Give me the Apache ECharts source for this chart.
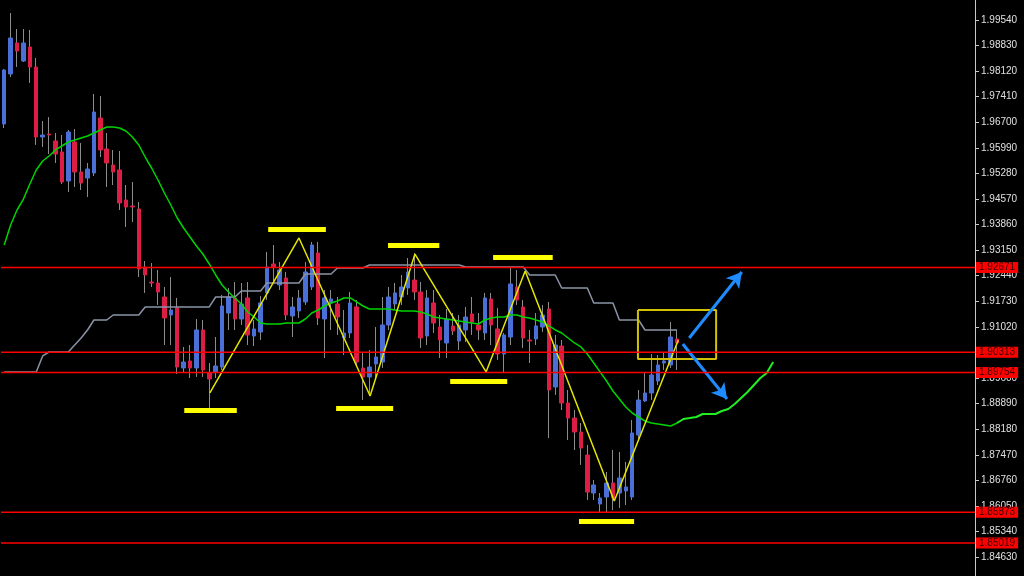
<!DOCTYPE html>
<html><head><meta charset="utf-8">
<script src="https://cdn.jsdelivr.net/npm/echarts@6/dist/echarts.min.js"></script>
<style>html,body{margin:0;padding:0;background:#000;}#c{width:1024px;height:576px;}</style>
</head><body><div id="c"></div>
<script>
const slotCount = 152;
const opens = [
1.96652,1.98041,1.98901,1.98401,1.98790,1.98235,1.96292,1.96375,1.96181,1.95875,
1.95070,1.96153,1.95320,1.95153,1.95292,1.96819,1.95959,1.95514,1.95376,1.94543,
1.94376,1.94293,1.92682,1.92266,1.92238,1.91850,1.91350,1.91545,1.89879,1.90073,
1.89879,1.90934,1.89740,1.89768,1.89906,1.91406,1.91823,1.91239,1.91823,1.90767,
1.90878,1.91962,1.92766,1.92183,1.92377,1.91323,1.91462,1.91712,1.92128,1.93071,
1.91239,1.91684,1.91656,1.90711,1.90851,1.91573,1.89879,1.89629,1.89990,1.90045,
1.91072,1.91656,1.91850,1.92100,1.92322,1.91989,1.90767,1.91684,1.91017,1.90573,
1.91045,1.90628,1.90934,1.91378,1.91072,1.90851,1.91795,1.90962,1.90267,1.90739,
1.92128,1.91573,1.90656,1.90684,1.91017,1.91517,1.89351,1.90489,1.88907,1.88490,
1.88102,1.87463,1.86408,1.86103,1.86297,1.86686,1.86408,1.86464,1.86297,1.88019,
1.88962,1.89185,1.89518,1.90017,1.89962,1.90684];
const closes = [
1.98152,1.99040,1.98679,1.98901,1.98235,1.96292,1.96347,1.96347,1.95820,1.95042,
1.96430,1.95320,1.95015,1.95403,1.96984,1.95931,1.95570,1.95320,1.94459,1.94348,
1.94348,1.92627,1.92461,1.92238,1.91989,1.91267,1.91489,1.89906,1.90045,1.89879,
1.90934,1.89823,1.89573,1.89934,1.91600,1.91850,1.91239,1.91656,1.90795,1.90962,
1.91684,1.92682,1.92682,1.92600,1.91350,1.91573,1.91823,1.92544,1.93293,1.91267,
1.91823,1.91795,1.91295,1.90851,1.91684,1.90045,1.89629,1.89906,1.90184,1.91072,
1.91850,1.91962,1.92128,1.92544,1.91989,1.90711,1.91823,1.91128,1.90656,1.91239,
1.90906,1.91072,1.91295,1.91156,1.90934,1.91823,1.91072,1.90267,1.90795,1.92211,
1.91767,1.90711,1.90628,1.91045,1.91350,1.89268,1.90517,1.88907,1.88490,1.88102,
1.87658,1.86436,1.86630,1.86269,1.86686,1.86269,1.86825,1.86575,1.88074,1.88990,
1.89185,1.89684,1.89962,1.90073,1.90739,1.90573];
const lows = [
1.96541,1.97958,1.98235,1.98374,1.97792,1.96070,1.96014,1.95820,1.95570,1.94987,
1.94765,1.94904,1.94820,1.94626,1.95209,1.95736,1.94904,1.94959,1.94265,1.93793,
1.93932,1.92405,1.91962,1.92128,1.91628,1.90517,1.90517,1.89712,1.89740,1.89601,
1.89629,1.89629,1.88657,1.89601,1.89823,1.90934,1.90934,1.91072,1.90517,1.90489,
1.90656,1.91767,1.92238,1.92045,1.91211,1.90739,1.91267,1.91628,1.92045,1.91072,
1.90156,1.90934,1.90795,1.90240,1.90711,1.89962,1.88990,1.89185,1.89545,1.89879,
1.90934,1.91489,1.91628,1.91906,1.91767,1.90434,1.90517,1.90851,1.90156,1.90156,
1.90795,1.90378,1.90600,1.90795,1.90656,1.90656,1.90517,1.90101,1.89740,1.90517,
1.91628,1.90434,1.90017,1.90517,1.90878,1.87935,1.89129,1.88713,1.87880,1.87602,
1.87186,1.86214,1.86214,1.85881,1.85881,1.85936,1.85992,1.86075,1.86214,1.87880,
1.88935,1.88990,1.89407,1.89823,1.89879,1.89823];
const highs = [
1.98179,1.99734,1.99290,1.99290,1.99262,1.98485,1.96736,1.96845,1.96403,1.96347,
1.96486,1.96514,1.96125,1.95570,1.97485,1.97430,1.96403,1.95931,1.95903,1.94959,
1.95042,1.94487,1.92849,1.92794,1.92600,1.92128,1.92405,1.91823,1.90462,1.90517,
1.91239,1.91211,1.90017,1.90739,1.91906,1.92100,1.92266,1.92238,1.92266,1.91211,
1.91878,1.93099,1.93293,1.92822,1.92544,1.91850,1.92045,1.92822,1.93377,1.93377,
1.92045,1.92045,1.91850,1.91489,1.91989,1.91767,1.90295,1.90378,1.91017,1.91850,
1.92128,1.92238,1.92461,1.92932,1.93071,1.92266,1.92045,1.92045,1.91350,1.91517,
1.91406,1.91350,1.91573,1.91850,1.91406,1.91962,1.91962,1.91545,1.90851,1.92655,
1.92600,1.91767,1.90934,1.91406,1.91628,1.91712,1.90795,1.90656,1.89268,1.88713,
1.88352,1.87741,1.86769,1.86408,1.86991,1.87602,1.87547,1.87269,1.88435,1.89268,
1.89740,1.90267,1.90240,1.90295,1.91156,1.90934];
const maMain = [
1.93293,1.93849,1.94265,1.94570,1.94987,1.95376,1.95625,1.95764,1.95931,1.96042,
1.96153,1.96208,1.96264,1.96319,1.96403,1.96486,1.96569,1.96569,1.96541,1.96458,
1.96292,1.96070,1.95736,1.95431,1.95098,1.94737,1.94404,1.94043,1.93765,1.93515,
1.93265,1.93043,1.92766,1.92461,1.92183,1.91989,1.91823,1.91656,1.91433,1.91295,
1.91128,1.91100,1.91100,1.91100,1.91128,1.91128,1.91128,1.91239,1.91406,1.91489,
1.91600,1.91684,1.91739,1.91823,1.91823,1.91712,1.91600,1.91517,1.91517,1.91517,
1.91517,1.91489,1.91462,1.91462,1.91462,1.91433,1.91378,1.91295,1.91267,1.91239,
1.91211,1.91183,1.91156,1.91128,1.91100,1.91211,1.91267,1.91295,1.91295,1.91350,
1.91350,1.91295,1.91267,1.91211,1.91156,1.91045,1.90934,1.90851,1.90711,1.90573,
1.90462,1.90267,1.90017,1.89768,1.89518,1.89240,1.89018,1.88796,1.88629,1.88518,
1.88407,1.88352,1.88324,1.88296,1.88268,1.88352];
const maProjStart = 105;
const maProj = [1.88352,1.88463,1.88490,1.88518,1.88602,1.88602,1.88602,1.88685,1.88740,1.88879,1.89046,1.89212,1.89407,1.89601,1.89740,1.90045];
const grayLine = [
1.89768,1.89768,1.89768,1.89768,1.89768,1.89768,1.90212,1.90323,1.90323,1.90323,
1.90323,1.90517,1.90711,1.90934,1.91211,1.91211,1.91211,1.91350,1.91350,1.91350,
1.91350,1.91350,1.91573,1.91573,1.91573,1.91573,1.91573,1.91573,1.91573,1.91573,
1.91573,1.91573,1.91573,1.91850,1.91850,1.91850,1.91850,1.92016,1.92016,1.92016,
1.92016,1.92238,1.92238,1.92238,1.92238,1.92238,1.92238,1.92488,1.92488,1.92488,
1.92488,1.92488,1.92655,1.92655,1.92655,1.92655,1.92655,1.92738,1.92738,1.92738,
1.92738,1.92738,1.92738,1.92738,1.92738,1.92738,1.92738,1.92738,1.92738,1.92738,
1.92738,1.92738,1.92682,1.92682,1.92682,1.92682,1.92682,1.92682,1.92682,1.92682,
1.92682,1.92682,1.92461,1.92461,1.92461,1.92461,1.92461,1.92100,1.92100,1.92100,
1.92100,1.92100,1.91684,1.91684,1.91684,1.91684,1.91211,1.91211,1.91211,1.91211,
1.90934,1.90934,1.90934,1.90934,1.90934,1.90934];
const zigzagX = [32.1,46.0,57.1,64.1,75.2,81.3,95.2,105.2];
const zigzagY = [1.89185,1.93488,1.89101,1.93043,1.89768,1.92572,1.86186,1.90656];
const barStartX = [28.1,41.2,51.8,59.9,69.6,76.3,89.7];
const barEndX   = [36.3,50.2,60.7,67.9,78.5,85.6,98.3];
const barY      = [1.88713,1.93738,1.88768,1.93293,1.89504,1.92960,1.85631];
const boxX = [98.9,111.1];
const boxY = [1.91489,1.90128];
const arrowStartX = [106.9,105.9];
const arrowStartY = [1.90711,1.90545];
const arrowEndX = [115.1,112.8];
const arrowEndY = [1.92544,1.89018];
const levelPrices = [1.92671,1.90313,1.89754,1.85873,1.85019];
const tickValues = [1.99540,1.98830,1.98120,1.97410,1.96700,1.95990,1.95280,1.94570,1.93860,1.93150,1.92440,1.91730,1.91020,1.90310,1.89600,1.88890,1.88180,1.87470,1.86760,1.86050,1.85340,1.84630];
const yMin = 1.84104, yMax = 2.00095;

const slots = [];
for (let i = 0; i < slotCount; i++) slots.push(String(i));
const wickData = opens.map((o, i) => [o, closes[i], lows[i], highs[i]]);
const bodyData = opens.map((o, i) => [o, closes[i], Math.min(o, closes[i]), Math.max(o, closes[i])]);
const font = 'Liberation Sans, Arial, sans-serif';

const levelSeries = levelPrices.map(v => ({
  type: 'line', xAxisIndex: 1, silent: true, showSymbol: false, z: 5,
  data: [[-0.5, v], [slotCount - 0.5, v]],
  lineStyle: {color: '#ff0000', width: 1.5},
  endLabel: {show: true, formatter: v.toFixed(5), distance: 1, color: '#3a0000', backgroundColor: '#ff0000',
             fontSize: 10, fontFamily: font, padding: [1, 3, 0, 3]}
}));

const chart = echarts.init(document.getElementById('c'));
chart.setOption({
  backgroundColor: '#000000',
  animation: false,
  grid: {left: 1, right: 49, top: 0, bottom: 0, containLabel: false},
  xAxis: [
    {type: 'category', data: slots, boundaryGap: true, show: false},
    {type: 'value', min: -0.5, max: slotCount - 0.5, show: false}
  ],
  yAxis: {
    type: 'value', position: 'right', min: yMin, max: yMax, scale: true,
    splitLine: {show: false},
    axisLine: {show: true, onZero: false, lineStyle: {color: '#c8c8c8', width: 1}},
    axisTick: {show: true, length: 4, customValues: tickValues, lineStyle: {color: '#c8c8c8'}},
    axisLabel: {customValues: tickValues, formatter: v => v.toFixed(5), color: '#e0e0e0', fontSize: 10, fontFamily: font, margin: 6}
  },
  series: [
    {type: 'candlestick', name: 'wick', data: wickData, barWidth: 1, silent: true,
     itemStyle: {color: '#8c8c8c', color0: '#8c8c8c', borderColor: '#8c8c8c', borderColor0: '#8c8c8c', borderWidth: 1}},
    {type: 'candlestick', name: 'body', data: bodyData, barWidth: 4, silent: true,
     itemStyle: {color: '#4a70d8', color0: '#dc1e46', borderColor: '#4a70d8', borderColor0: '#dc1e46', borderWidth: 1}},
    {type: 'line', name: 'gray', data: grayLine, showSymbol: false, silent: true,
     lineStyle: {color: '#8a94a6', width: 1.5}},
    {type: 'line', name: 'ma', xAxisIndex: 1, data: maMain.map((v, i) => [i, v]), showSymbol: false, silent: true,
     lineStyle: {color: '#00d400', width: 1.5}},
    {type: 'line', name: 'maProj', xAxisIndex: 1, data: maProj.map((v, k) => [maProjStart + k, v]), showSymbol: false, silent: true,
     lineStyle: {color: '#22ee22', width: 2}},
    {type: 'line', name: 'zigzag', xAxisIndex: 1, data: zigzagX.map((x, i) => [x, zigzagY[i]]), showSymbol: false, silent: true,
     lineStyle: {color: '#e6e600', width: 1.5},
     markLine: {silent: true, symbol: ['none', 'none'], label: {show: false},
       lineStyle: {color: '#ffff00', width: 5, type: 'solid'},
       data: barY.map((y, i) => [{coord: [barStartX[i], y]}, {coord: [barEndX[i], y]}])}},
    {type: 'line', name: 'box', xAxisIndex: 1, showSymbol: false, silent: true,
     data: [[boxX[0], boxY[0]], [boxX[1], boxY[0]], [boxX[1], boxY[1]], [boxX[0], boxY[1]], [boxX[0], boxY[0]]],
     lineStyle: {color: '#d2c200', width: 2},
     markLine: {silent: true, label: {show: false}, symbol: ['none', 'arrow'], symbolSize: [13, 15],
       lineStyle: {color: '#1e8cff', width: 3, type: 'solid'},
       itemStyle: {color: '#1e8cff'},
       data: arrowStartX.map((x, i) => [{coord: [x, arrowStartY[i]]}, {coord: [arrowEndX[i], arrowEndY[i]]}])}}
  ].concat(levelSeries)
});
</script></body></html>
